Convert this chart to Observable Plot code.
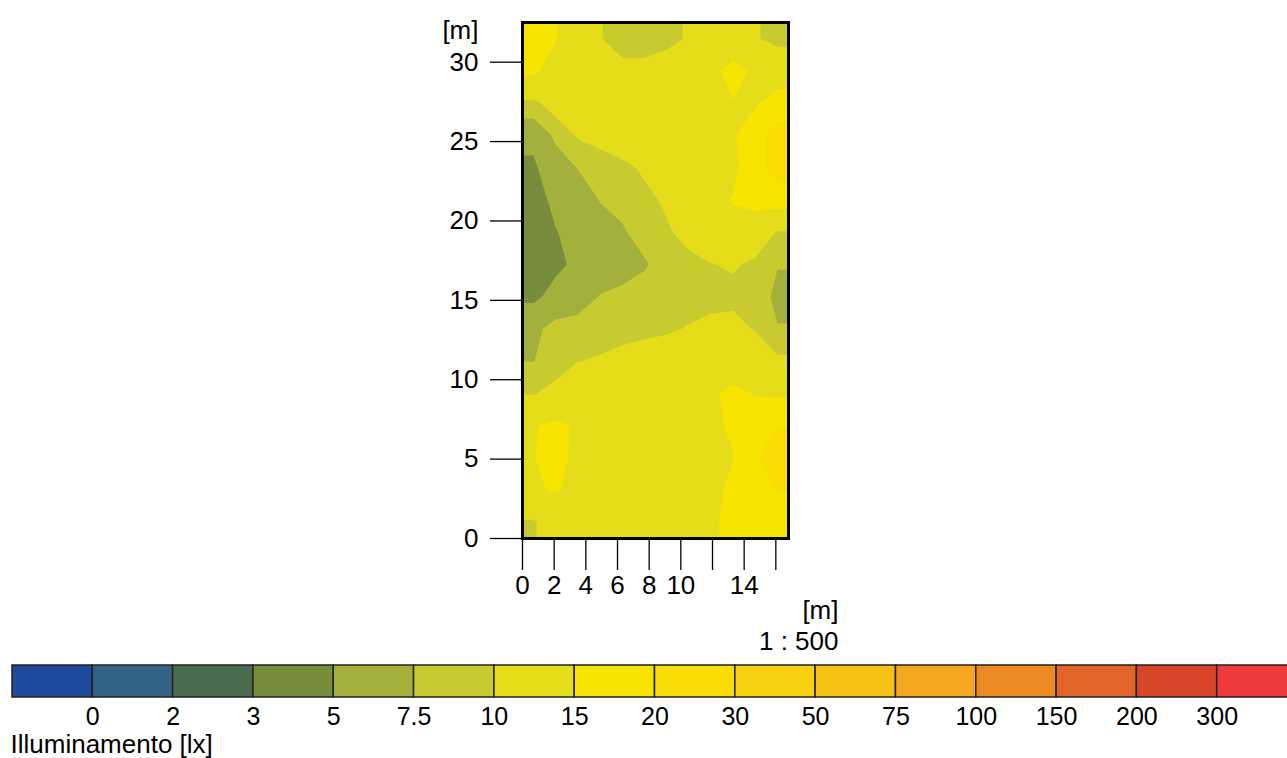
<!DOCTYPE html>
<html>
<head>
<meta charset="utf-8">
<script src="https://cdn.jsdelivr.net/npm/d3@7"></script>
<script src="https://cdn.jsdelivr.net/npm/@observablehq/plot@0.6"></script>
<style>
  html, body { margin: 0; padding: 0; background: #fff; overflow: hidden; }
  svg { display: block; max-width: none !important; }
</style>
</head>
<body>
<div id="chart"></div>
<script>
// Illuminance legend classes (lx)
const thresholds = [0, 2, 3, 5, 7.5, 10, 15, 20, 30, 50, 75, 100, 150, 200, 300];
const thresholdLabels = ["0", "2", "3", "5", "7.5", "10", "15", "20", "30", "50", "75", "100", "150", "200", "300"];
const classColors = ["#1d4a9b", "#336487", "#4b6b4f", "#778d3c", "#a4b03c", "#c8cb2f", "#e5dd19", "#f7e501",
                     "#f8dc04", "#f7d110", "#f6c216", "#f5a81f", "#ec8923", "#e16428", "#d84529", "#ef3b3b"];

// Room extent (m) and axis ticks
const roomWidth = 16.8;
const roomLength = 32.5;
const xTicks = [0, 2, 4, 6, 8, 10, 12, 14, 16];
const xTickLabels = ["0", "2", "4", "6", "8", "10", "", "14", ""];
const yTicks = [0, 5, 10, 15, 20, 25, 30];

// Illuminance grid (lx), 12 columns x 16 rows, rows listed from the far end (y = 32.5 m) down to y = 0
const luxRows = [
  [17.0, 15.2, 12.0, 10.2, 8.5, 8.5, 9.2, 10.3, 11.5, 11.0, 10.3, 9.0],
  [15.8, 13.0, 12.0, 11.5, 11.0, 11.0, 11.5, 12.0, 13.5, 17.0, 14.0, 13.0],
  [9.3, 11.5, 12.5, 12.5, 12.5, 12.5, 12.8, 13.0, 13.5, 14.8, 14.5, 16.5],
  [5.5, 8.0, 10.3, 11.3, 12.3, 12.8, 13.0, 13.3, 13.8, 14.5, 18.0, 22.5],
  [4.7, 6.3, 7.6, 8.3, 9.2, 10.5, 12.0, 12.8, 13.3, 14.0, 18.0, 22.5],
  [4.0, 5.6, 6.0, 7.6, 8.0, 9.2, 10.5, 12.0, 13.5, 15.3, 16.5, 17.0],
  [3.5, 4.9, 5.8, 6.5, 7.3, 8.2, 9.6, 11.0, 12.5, 13.5, 12.0, 9.8],
  [3.3, 4.5, 5.5, 6.2, 6.8, 7.3, 8.3, 9.2, 9.9, 10.3, 9.5, 7.6],
  [4.5, 5.8, 6.5, 7.6, 7.9, 8.3, 8.6, 8.9, 9.2, 9.3, 8.6, 7.0],
  [7.0, 8.2, 8.3, 8.7, 9.0, 9.3, 9.6, 10.2, 10.7, 10.9, 9.8, 7.6],
  [7.45, 8.6, 9.95, 10.3, 11.0, 11.5, 11.8, 12.2, 12.5, 12.8, 12.2, 10.6],
  [9.8, 11.0, 11.8, 12.2, 12.5, 12.8, 13.2, 13.8, 14.5, 15.8, 14.8, 14.2],
  [14.8, 15.8, 14.5, 13.5, 13.2, 13.2, 13.4, 13.8, 14.3, 15.5, 16.5, 19.8],
  [14.9, 16.0, 14.2, 13.5, 13.2, 13.2, 13.3, 13.6, 14.0, 14.9, 19.5, 23.0],
  [14.6, 15.3, 14.0, 13.2, 13.0, 13.0, 13.1, 13.4, 14.0, 15.8, 17.0, 20.2],
  [9.6, 12.5, 12.8, 12.8, 12.8, 12.8, 13.0, 13.5, 14.5, 15.8, 16.5, 16.5]
];

const unitLabel = "[m]";
const scaleLabel = "1 : 500";
const legendTitle = "Illuminamento [lx]";

const font = "'Liberation Sans', Arial, Helvetica, sans-serif";
const colorScale = {type: "threshold", domain: thresholds, range: classColors};

// Grid geometry; the edge rows/columns are repeated once outside the room so the
// contour polygons reach the corners, then clipped to the frame.
const gridW = luxRows[0].length;
const gridH = luxRows.length;
const cellW = roomWidth / gridW;
const cellH = roomLength / gridH;
const padded = [luxRows[0], ...luxRows, luxRows[gridH - 1]].map((r) => [r[0], ...r, r[r.length - 1]]);
const luxGrid = padded.flat();

const main = Plot.plot({
  width: 1287,
  height: 650,
  marginLeft: 522,
  marginRight: 499,
  marginTop: 22,
  marginBottom: 112,
  style: {fontFamily: font, fontSize: "26px", color: "black", background: "white", overflow: "visible"},
  x: {domain: [0, roomWidth]},
  y: {domain: [0, roomLength]},
  color: colorScale,
  marks: [
    Plot.contour(luxGrid, {
      width: gridW + 2, height: gridH + 2,
      x1: -cellW, x2: roomWidth + cellW, y1: roomLength + cellH, y2: -cellH,
      thresholds: thresholds,
      fill: Plot.identity,
      stroke: "none",
      clip: true
    }),
    Plot.frame({stroke: "black", strokeWidth: 3}),
    Plot.axisY({ticks: yTicks, tickSize: 32, tickPadding: 12, fontSize: 26, label: null, strokeWidth: 1.3}),
    Plot.axisX({ticks: xTicks, tickSize: 32, tickPadding: 5, fontSize: 26, label: null, strokeWidth: 1.3,
      tickFormat: (d) => xTickLabels[xTicks.indexOf(d)]}),
    Plot.text([unitLabel], {frameAnchor: "top-left", dx: -44, dy: 8, textAnchor: "end", lineAnchor: "middle", fontSize: 26}),
    Plot.text([unitLabel], {frameAnchor: "bottom-right", dx: 50, dy: 72, textAnchor: "end", lineAnchor: "middle", fontSize: 26}),
    Plot.text([scaleLabel], {frameAnchor: "bottom-right", dx: 50, dy: 103, textAnchor: "end", lineAnchor: "middle", fontSize: 26})
  ]
});

const legendCells = classColors.map((c, i) => ({i, v: i === 0 ? -1 : thresholds[i - 1]}));

const legend = Plot.plot({
  width: 1300,
  height: 108,
  marginLeft: 12,
  marginRight: 3,
  marginTop: 15,
  marginBottom: 61,
  style: {fontFamily: font, fontSize: "26px", color: "black", background: "white", overflow: "visible"},
  x: {domain: [0, classColors.length], axis: null},
  y: {domain: [0, 1], axis: null},
  color: colorScale,
  marks: [
    Plot.rect(legendCells, {x1: (d) => d.i, x2: (d) => d.i + 1, y1: 0, y2: 1, fill: (d) => d.v, stroke: "#222", strokeWidth: 1.5}),
    Plot.text(thresholdLabels, {x: (d, i) => i + 1, y: 0, dy: 19, text: (d) => d, fontSize: 25, lineAnchor: "middle"}),
    Plot.text([legendTitle], {frameAnchor: "bottom-left", dx: -2, dy: 47, textAnchor: "start", lineAnchor: "middle", fontSize: 26})
  ]
});

const root = document.getElementById("chart");
root.appendChild(main);
root.appendChild(legend);
</script>
</body>
</html>
